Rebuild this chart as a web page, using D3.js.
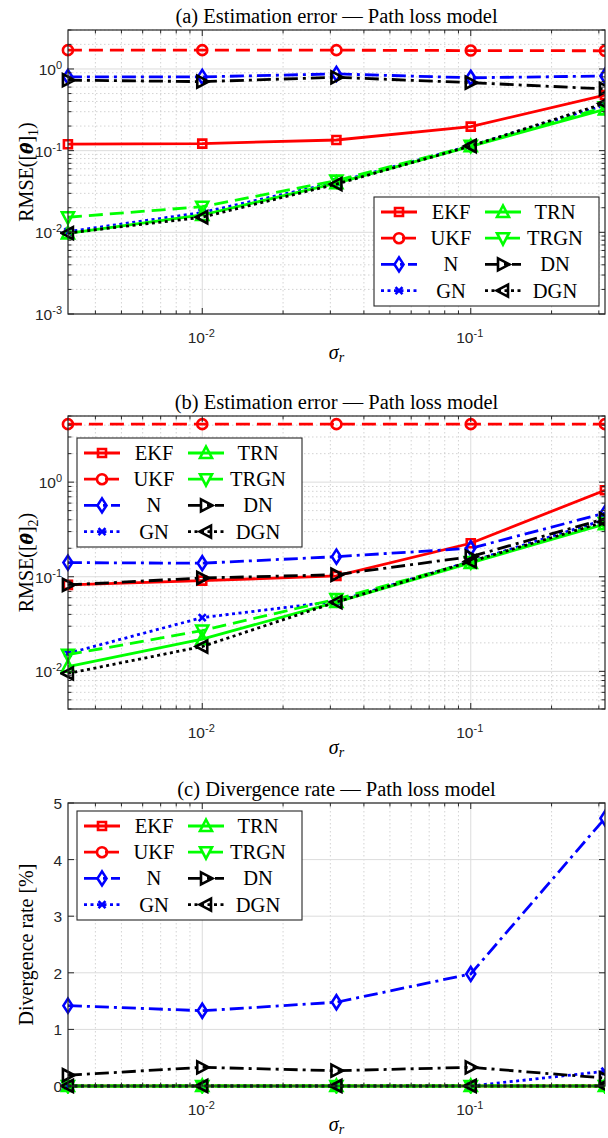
<!DOCTYPE html>
<html>
<head>
<meta charset="utf-8">
<script src="https://cdn.jsdelivr.net/npm/d3@7/dist/d3.min.js"></script>
<style>
  body { margin: 0; background: #fff; }
  text { fill: #000; }
  .tick-label { font-family: "Liberation Sans", Arial, sans-serif; font-size: 15.5px; fill: #262626; }
  .serif { font-family: "Liberation Serif", "Times New Roman", serif; }
</style>
</head>
<body>
<div id="chart"></div>
<script>
// x values (noise std sigma_r), same for all three panels
var sigmaR = [0.00316, 0.01, 0.0316, 0.1, 0.316];
var methods = ["EKF", "UKF", "N", "GN", "TRN", "TRGN", "DN", "DGN"];
var xTicks = [0.01, 0.1];

// (a) RMSE of theta_1
var rmse1 = {
  EKF:  [0.12, 0.122, 0.135, 0.197, 0.48],
  UKF:  [1.7, 1.7, 1.7, 1.68, 1.67],
  N:    [0.80, 0.80, 0.87, 0.78, 0.82],
  GN:   [0.0102, 0.0175, 0.041, 0.115, 0.36],
  TRN:  [0.0097, 0.0163, 0.040, 0.113, 0.32],
  TRGN: [0.0153, 0.0206, 0.043, 0.115, 0.34],
  DN:   [0.73, 0.70, 0.79, 0.68, 0.57],
  DGN:  [0.0098, 0.0153, 0.039, 0.114, 0.38]
};
var rmse1Ticks = [0.001, 0.01, 0.1, 1];

// (b) RMSE of theta_2
var rmse2 = {
  EKF:  [0.082, 0.091, 0.102, 0.226, 0.82],
  UKF:  [4.1, 4.1, 4.1, 4.1, 4.1],
  N:    [0.141, 0.139, 0.163, 0.20, 0.47],
  GN:   [0.0155, 0.037, 0.055, 0.145, 0.40],
  TRN:  [0.0112, 0.0219, 0.054, 0.140, 0.36],
  TRGN: [0.015, 0.027, 0.058, 0.143, 0.37],
  DN:   [0.082, 0.097, 0.105, 0.163, 0.41],
  DGN:  [0.0095, 0.0183, 0.054, 0.145, 0.38]
};
var rmse2Ticks = [0.01, 0.1, 1];

// (c) divergence rate in percent
var divRate = {
  EKF:  [0, 0, 0, 0, 0],
  UKF:  [0, 0, 0, 0, 0],
  N:    [1.42, 1.33, 1.48, 1.98, 4.73],
  GN:   [0, 0, 0, 0, 0.26],
  TRN:  [0, 0, 0, 0, 0],
  TRGN: [0, 0, 0, 0, 0],
  DN:   [0.19, 0.33, 0.27, 0.33, 0.14],
  DGN:  [0, 0, 0, 0, 0]
};
var divTicks = [0, 1, 2, 3, 4, 5];

// line style of every method (MATLAB-like)
var styles = {
  EKF:  {color: "#ff0000", dash: null,           marker: "s"},
  UKF:  {color: "#ff0000", dash: "14,7",         marker: "o"},
  N:    {color: "#0000ff", dash: "14,5,3,5",     marker: "d"},
  GN:   {color: "#0000ff", dash: "3,3.5",        marker: "x"},
  TRN:  {color: "#00ff00", dash: null,           marker: "^"},
  TRGN: {color: "#00ff00", dash: "14,7",         marker: "v"},
  DN:   {color: "#000000", dash: "14,5,3,5",     marker: ">"},
  DGN:  {color: "#000000", dash: "3,3.5",        marker: "<"}
};

var markerPaths = {
  s: "M-4,-4H4V4H-4Z",
  o: "M5,0A5,5 0 1,1 -5,0A5,5 0 1,1 5,0Z",
  d: "M0,-7L4.5,0L0,7L-4.5,0Z",
  x: "M-3.5,-3.5L3.5,3.5M-3.5,3.5L3.5,-3.5",
  "^": "M0,-6.5L6,5H-6Z",
  v: "M0,6.5L6,-5H-6Z",
  ">": "M6.5,0L-5,-6V6Z",
  "<": "M-6.5,0L5,-6V6Z"
};

var svgWidth = 608, svgHeight = 1138;
var svg = d3.select("#chart").append("svg")
  .attr("width", svgWidth)
  .attr("height", svgHeight);

var plotLeft = 68, plotRight = 605;
var axisColor = "#262626";

var xScale = d3.scaleLog()
  .domain([Math.pow(10, -2.5), Math.pow(10, -0.5)])
  .range([plotLeft, plotRight]);

// minor values of a log axis inside a domain
function logMinors(domain) {
  var out = [];
  var lo = Math.floor(Math.log10(domain[0])), hi = Math.ceil(Math.log10(domain[1]));
  for (var e = lo; e <= hi; e++) {
    for (var m = 1; m <= 9; m++) {
      var v = m * Math.pow(10, e);
      if (v >= domain[0] * 0.999 && v <= domain[1] * 1.001) out.push({v: v, major: m === 1});
    }
  }
  return out;
}

function powLabel(sel, exp) {
  sel.append("tspan").text("10");
  sel.append("tspan").attr("dy", -6).attr("font-size", "11px")
    .text(exp < 0 ? "-" + (-exp) : String(exp));
}

function addMarker(g, type, x, y, color) {
  g.append("path")
    .attr("d", markerPaths[type])
    .attr("transform", "translate(" + x + "," + y + ")")
    .attr("fill", "none")
    .attr("stroke", color)
    .attr("stroke-width", 2.6)
    .attr("stroke-linejoin", "miter");
}

function drawPanel(cfg) {
  var top = cfg.top, bottom = cfg.bottom;
  var yScale = cfg.log ? d3.scaleLog() : d3.scaleLinear();
  yScale.domain(cfg.yDomain).range([bottom, top]);

  var g = svg.append("g");

  // grid
  var grid = g.append("g");
  logMinors(xScale.domain()).forEach(function(t) {
    grid.append("line")
      .attr("x1", xScale(t.v)).attr("x2", xScale(t.v))
      .attr("y1", top).attr("y2", bottom)
      .attr("stroke", t.major ? "#dcdcdc" : "#c8c8c8")
      .attr("stroke-width", t.major ? 1 : 0.8)
      .attr("stroke-dasharray", t.major ? null : "1.5,2.5");
  });
  var yGrid = cfg.log ? logMinors(cfg.yDomain) : cfg.yTicks.map(function(v) { return {v: v, major: true}; });
  yGrid.forEach(function(t) {
    grid.append("line")
      .attr("x1", plotLeft).attr("x2", plotRight)
      .attr("y1", yScale(t.v)).attr("y2", yScale(t.v))
      .attr("stroke", t.major ? "#dcdcdc" : "#c8c8c8")
      .attr("stroke-width", t.major ? 1 : 0.8)
      .attr("stroke-dasharray", t.major ? null : "1.5,2.5");
  });

  // series, drawn in legend order so later ones lie on top
  var line = d3.line()
    .x(function(d) { return xScale(d[0]); })
    .y(function(d) { return yScale(d[1]); });

  var clip = "clip" + cfg.id;
  svg.append("clipPath").attr("id", clip).append("rect")
    .attr("x", plotLeft - 8).attr("y", top - 8)
    .attr("width", plotRight - plotLeft + 8).attr("height", bottom - top + 16);

  var series = g.append("g").attr("clip-path", "url(#" + clip + ")");
  methods.forEach(function(m) {
    var st = styles[m];
    var pts = sigmaR.map(function(x, i) { return [x, cfg.data[m][i]]; });
    series.append("path")
      .attr("d", line(pts))
      .attr("fill", "none")
      .attr("stroke", st.color)
      .attr("stroke-width", 2.8)
      .attr("stroke-dasharray", st.dash);
    pts.forEach(function(p) {
      addMarker(series, st.marker, xScale(p[0]), yScale(p[1]), st.color);
    });
  });

  // axes box with inward ticks
  var ax = g.append("g").attr("stroke", axisColor).attr("fill", "none");
  ax.append("rect")
    .attr("x", plotLeft).attr("y", top)
    .attr("width", plotRight - plotLeft).attr("height", bottom - top)
    .attr("stroke-width", 1.2);
  logMinors(xScale.domain()).forEach(function(t) {
    var len = t.major ? 6 : 3.5, x = xScale(t.v);
    ax.append("line").attr("x1", x).attr("x2", x).attr("y1", bottom).attr("y2", bottom - len);
    ax.append("line").attr("x1", x).attr("x2", x).attr("y1", top).attr("y2", top + len);
  });
  var yTickList = cfg.log ? logMinors(cfg.yDomain) : cfg.yTicks.map(function(v) { return {v: v, major: true}; });
  yTickList.forEach(function(t) {
    var len = t.major ? 6 : 3.5, y = yScale(t.v);
    ax.append("line").attr("x1", plotLeft).attr("x2", plotLeft + len).attr("y1", y).attr("y2", y);
    ax.append("line").attr("x1", plotRight).attr("x2", plotRight - len).attr("y1", y).attr("y2", y);
  });

  // tick labels
  xTicks.forEach(function(v) {
    var t = g.append("text").attr("class", "tick-label")
      .attr("x", xScale(v) - 1).attr("y", bottom + 29)
      .attr("text-anchor", "middle");
    powLabel(t, Math.round(Math.log10(v)));
  });
  cfg.yTicks.forEach(function(v) {
    var t = g.append("text").attr("class", "tick-label")
      .attr("x", plotLeft - 6).attr("y", yScale(v) + 6)
      .attr("text-anchor", "end");
    if (cfg.log) powLabel(t, Math.round(Math.log10(v)));
    else t.text(v);
  });

  // title
  g.append("text").attr("class", "serif")
    .attr("x", (plotLeft + plotRight) / 2).attr("y", top - 7)
    .attr("text-anchor", "middle").attr("font-size", "20.5px")
    .text(cfg.title);

  // x label sigma_r
  var xl = g.append("text").attr("class", "serif")
    .attr("x", (plotLeft + plotRight) / 2).attr("y", bottom + 45)
    .attr("text-anchor", "middle").attr("font-size", "20px");
  xl.append("tspan").attr("font-style", "italic").text("σ");
  xl.append("tspan").attr("font-style", "italic").attr("font-size", "14px").attr("dy", 3).text("r");

  // y label
  var yl = g.append("text").attr("class", "serif")
    .attr("transform", "translate(33," + ((top + bottom) / 2) + ") rotate(-90)")
    .attr("text-anchor", "middle").attr("font-size", "20px");
  cfg.ylabel(yl);

  // legend
  var lg = g.append("g").attr("transform", "translate(" + cfg.legend[0] + "," + cfg.legend[1] + ")");
  lg.append("rect").attr("width", 225).attr("height", 109)
    .attr("fill", "#fff").attr("stroke", axisColor).attr("stroke-width", 1.1);
  methods.forEach(function(m, i) {
    var col = Math.floor(i / 4), row = i % 4;
    var st = styles[m];
    var x0 = col === 0 ? 7 : 111, y0 = 15 + row * 26.2;
    lg.append("line").attr("x1", x0).attr("x2", x0 + 36).attr("y1", y0).attr("y2", y0)
      .attr("stroke", st.color).attr("stroke-width", 2.8).attr("stroke-dasharray", st.dash);
    addMarker(lg, st.marker, x0 + 18, y0, st.color);
    lg.append("text").attr("class", "serif")
      .attr("x", col === 0 ? 77 : 181).attr("y", y0 + 7)
      .attr("text-anchor", "middle").attr("font-size", "20.5px")
      .text(m);
  });
}

function rmseLabel(idx) {
  return function(t) {
    t.append("tspan").text("RMSE([");
    t.append("tspan").attr("font-weight", "bold").attr("font-style", "italic")
      .attr("font-family", "'DejaVu Serif', serif").attr("font-size", "17px").text("θ\u0302");
    t.append("tspan").text("]");
    t.append("tspan").attr("font-size", "14px").attr("dy", 5).text(idx);
    t.append("tspan").attr("dy", -5).text(")");
  };
}

drawPanel({
  id: "a", title: "(a) Estimation error \u2014 Path loss model",
  top: 30, bottom: 314, log: true, yDomain: [0.001, 3], yTicks: rmse1Ticks,
  data: rmse1, legend: [374, 197], ylabel: rmseLabel("1")
});
drawPanel({
  id: "b", title: "(b) Estimation error \u2014 Path loss model",
  top: 416, bottom: 709, log: true, yDomain: [0.004, 5], yTicks: rmse2Ticks,
  data: rmse2, legend: [77, 438], ylabel: rmseLabel("2")
});
drawPanel({
  id: "c", title: "(c) Divergence rate \u2014 Path loss model",
  top: 803, bottom: 1086, log: false, yDomain: [0, 5], yTicks: divTicks,
  data: divRate, legend: [77, 811],
  ylabel: function(t) { t.text("Divergence rate [%]"); }
});
</script>
</body>
</html>
